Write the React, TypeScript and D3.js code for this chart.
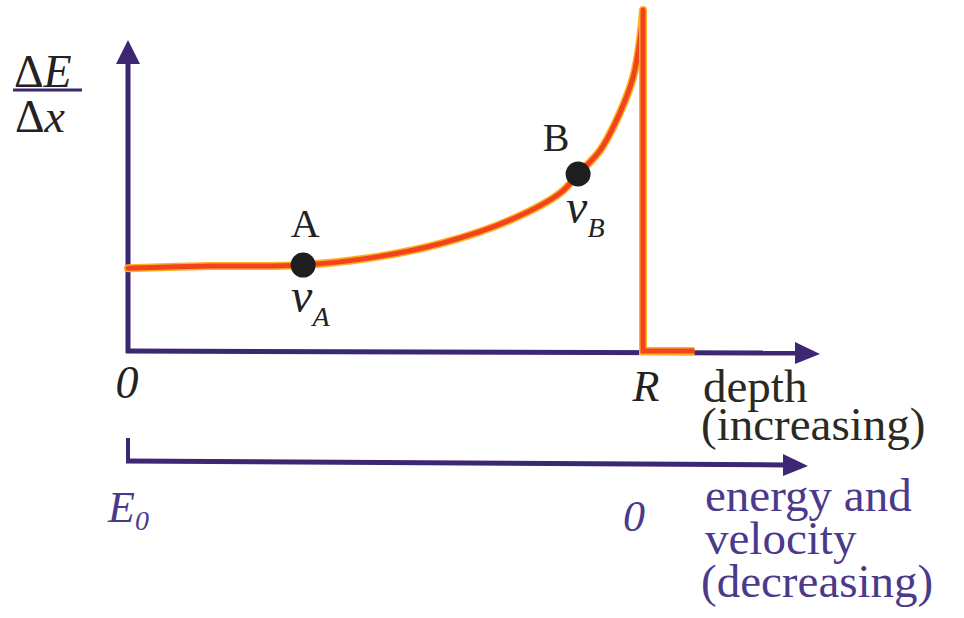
import React, { useEffect, useRef } from "react";
import * as d3 from "d3";

// Bragg curve: stopping power vs depth (arbitrary units)
const depth = [0, 0.159, 0.34, 0.483, 0.612, 0.742, 0.839, 0.874, 0.917, 0.955, 0.981, 0.994, 1.0];
const stopping = [2.43, 2.49, 2.52, 2.76, 3.17, 3.84, 4.63, 5.19, 5.89, 6.98, 8.04, 9.12, 10.0];
const tailDepth = [1.0, 1.0, 1.1];
const tailStopping = [10.0, 0, 0];
const markerNames = ["A", "B"];
const markerDepth = [0.34, 0.874];
const markerStopping = [2.52, 5.19];
const markerSubs = ["A", "B"];

const W = 964;
const H = 618;
const AXIS = "#3d2672";
const RED = "#f2431f";
const EDGE = "#ffb020";
const FAM = '"Liberation Serif", "Times New Roman", serif';

export default function App() {
  const ref = useRef<SVGSVGElement>(null);
  useEffect(() => {
    if (!ref.current) return;
    d3.select(ref.current)
      .selectAll<SVGElement, unknown>("text, tspan")
      .each(function () {
        this.style.setProperty("font-family", FAM, "important");
      });
  }, []);

  const x = d3.scaleLinear().domain([0, 1]).range([128, 643]);
  const y = d3.scaleLinear().domain([0, 10]).range([351, 10]);

  const curvePts: [number, number][] = depth.map((d, i) => [x(d), y(stopping[i])]);
  const curve = d3.line().curve(d3.curveCatmullRom.alpha(0.5))(curvePts) || "";
  const tailPts: [number, number][] = tailDepth.map((d, i) => [x(d), y(tailStopping[i])]);
  const tail = d3.line()(tailPts) || "";

  const x0 = x(0);
  const y0 = y(0);
  const y2 = 463;

  return (
    <svg id="bragg" ref={ref} width={W} height={H} style={{ display: "block", position: "absolute", left: 0, top: 0, background: "#fff" }}>
      <style>{`#bragg text, #bragg tspan { font-family: "Liberation Serif", "Times New Roman", serif !important; }`}</style>
      {/* vertical axis */}
      <line x1={x0} y1={y0 + 2} x2={x0} y2={62} stroke={AXIS} strokeWidth={5} />
      <path d={`M${x0 - 12},64 L${x0},40 L${x0 + 12},64 Z`} fill={AXIS} />
      {/* depth axis */}
      <line x1={x0 - 2} y1={y0} x2={798} y2={y0 + 2} stroke={AXIS} strokeWidth={5} />
      <path d={`M795,${y0 - 9} L820,${y0 + 3} L795,${y0 + 13} Z`} fill={AXIS} />
      {/* energy axis */}
      <line x1={x0} y1={y2 - 25} x2={x0} y2={y2} stroke={AXIS} strokeWidth={4} />
      <line x1={x0 - 2} y1={y2 - 2} x2={785} y2={y2 + 2} stroke={AXIS} strokeWidth={5} />
      <path d={`M783,${y2 - 9} L808,${y2 + 3} L783,${y2 + 13} Z`} fill={AXIS} />

      {/* curve */}
      <path d={curve} fill="none" stroke={EDGE} strokeWidth={8} strokeLinecap="round" />
      <path d={curve} fill="none" stroke={RED} strokeWidth={5} strokeLinecap="round" />
      <path d={tail} fill="none" stroke={EDGE} strokeWidth={8} />
      <path d={tail} fill="none" stroke={RED} strokeWidth={5} />

      {/* markers */}
      {markerNames.map((n, i) => {
        const cx = x(markerDepth[i]);
        const cy = y(markerStopping[i]);
        const isA = i === 0;
        return (
          <g key={n}>
            <circle cx={cx} cy={cy} r={12.5} fill="#1e1e1e" />
            <text fontFamily="Liberation Serif" x={isA ? cx + 2 : cx - 22} y={isA ? cy - 28 : cy - 23} textAnchor="middle" fontSize={40} fill="#222">
              {n}
            </text>
            <text fontFamily="Liberation Serif" x={cx - 12} y={isA ? cy + 47 : cy + 49} fontSize={48} fontStyle="italic" fill="#222">
              v
              <tspan fontSize={28} dy={14}>{markerSubs[i]}</tspan>
            </text>
          </g>
        );
      })}

      {/* y label */}
      <text fontFamily="Liberation Serif" x={14} y={87} fontSize={46} fill="#222">
        Δ<tspan fontStyle="italic">E</tspan>
      </text>
      <line x1={13} y1={90} x2={82} y2={90} stroke={AXIS} strokeWidth={3} />
      <text fontFamily="Liberation Serif" x={15} y={132} fontSize={46} fill="#222">
        Δ<tspan fontStyle="italic">x</tspan>
      </text>

      {/* depth axis labels */}
      <text fontFamily="Liberation Serif" x={127} y={398} fontSize={46} fontStyle="italic" textAnchor="middle" fill="#222">0</text>
      <text fontFamily="Liberation Serif" x={646} y={401} fontSize={44} fontStyle="italic" textAnchor="middle" fill="#222">R</text>
      <text fontFamily="Liberation Serif" x={703} y={402} fontSize={47} fill="#2a2a22">depth</text>
      <text fontFamily="Liberation Serif" x={701} y={440} fontSize={47} fill="#2a2a22">(increasing)</text>

      {/* energy axis labels */}
      <text fontFamily="Liberation Serif" x={108} y={522} fontSize={44} fontStyle="italic" fill="#4b3a8c">
        E<tspan fontSize={28} dy={8}>0</tspan>
      </text>
      <text fontFamily="Liberation Serif" x={634} y={531} fontSize={44} fontStyle="italic" textAnchor="middle" fill="#4b3a8c">0</text>
      <text fontFamily="Liberation Serif" x={705} y={511} fontSize={47} fill="#4b3a8c">energy and</text>
      <text fontFamily="Liberation Serif" x={705} y={554} fontSize={47} fill="#4b3a8c">velocity</text>
      <text fontFamily="Liberation Serif" x={701} y={597} fontSize={47} fill="#4b3a8c">(decreasing)</text>
    </svg>
  );
}
